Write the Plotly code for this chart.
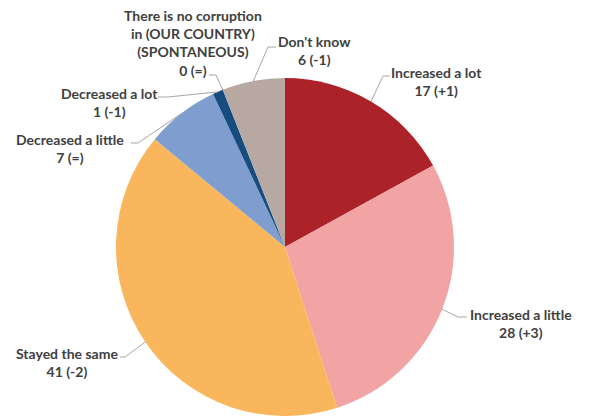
import math
import plotly.graph_objects as go

# Perceived change in corruption, share of respondents (%), with change vs previous wave
categories = [
    "Increased a lot",
    "Increased a little",
    "Stayed the same",
    "Decreased a little",
    "Decreased a lot",
    "There is no corruption<br>in (OUR COUNTRY)<br>(SPONTANEOUS)",
    "Don't know",
]
values = [17, 28, 41, 7, 1, 0, 6]
changes = ["+1", "+3", "-2", "=", "-1", "=", "-1"]
colors = ["#AB2329", "#F2A3A3", "#F9B65C", "#7F9DCE", "#164C80", "#1F3864", "#B7A9A1"]

W, H = 589, 416
CX, CY, R = 285, 247, 169  # pie centre and radius (px)

# label text centre (x, y) and leader elbow (x, y) + horizontal end x, in px
placements = [
    (436, 82, 383, 76, 390),
    (521, 323, 458, 317, 467),
    (67, 362, 125, 357, 120),
    (70, 149, 138, 143, 131),
    (109, 102, 168, 97, 158),
    (193, 43, 216, 75, 209),
    (314, 50, 268, 47, 276),
]


def px(x):
    return x / W


def py(y):
    return 1 - y / H


fig = go.Figure(
    go.Pie(
        labels=categories,
        values=values,
        marker=dict(colors=colors, line=dict(width=0)),
        sort=False,
        direction="clockwise",
        rotation=0,
        textinfo="none",
        hoverinfo="label+value",
        showlegend=False,
        domain=dict(x=[px(CX - R), px(CX + R)],
                    y=[max(0.0, py(CY + R)), min(1.0, py(CY - R))]),
    )
)

total = sum(values)
shapes = []
annotations = []
cum = 0
for name, v, ch, (tx, ty, ex, ey, hx) in zip(categories, values, changes, placements):
    mid = (cum + v / 2) / total * 2 * math.pi
    cum += v
    ax = CX + R * math.sin(mid)
    ay = CY - R * math.cos(mid)
    path = f"M {px(ax)} {py(ay)} L {px(ex)} {py(ey)} L {px(hx)} {py(ey)}"
    shapes.append(dict(type="path", path=path, xref="paper", yref="paper",
                       line=dict(color="#A6A6A6", width=1)))
    annotations.append(dict(
        x=px(tx), y=py(ty), xref="paper", yref="paper",
        text=f"{name}<br>{v} ({ch})", showarrow=False,
        xanchor="center", yanchor="middle", align="center",
        font=dict(family="Lato", size=14, color="#404040", weight="bold"),
    ))

fig.update_layout(
    width=W, height=H,
    margin=dict(l=0, r=0, t=0, b=0),
    paper_bgcolor="white",
    plot_bgcolor="white",
    shapes=shapes,
    annotations=annotations,
)

fig.write_html("out.html")
